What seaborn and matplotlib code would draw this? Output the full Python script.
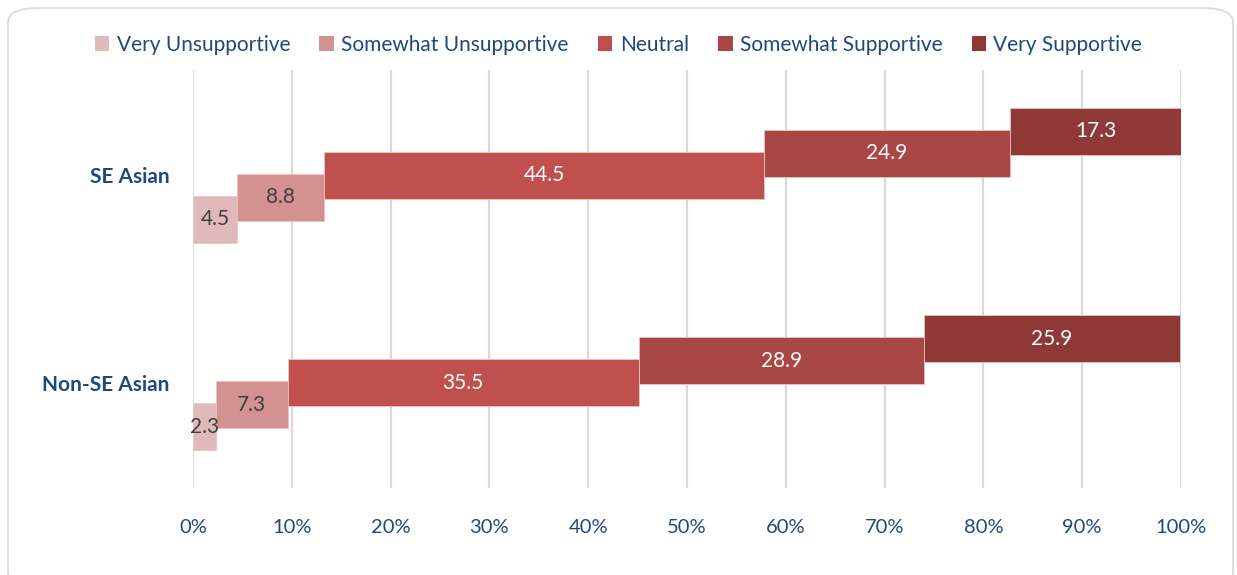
import matplotlib
matplotlib.use("Agg")
import matplotlib.pyplot as plt
import seaborn as sns
from matplotlib.patches import FancyBboxPatch, Patch

groups = ["SE Asian", "Non-SE Asian"]
levels = ["Very Unsupportive", "Somewhat Unsupportive", "Neutral",
          "Somewhat Supportive", "Very Supportive"]
se_asian = [4.5, 8.8, 44.5, 24.9, 17.3]
non_se_asian = [2.3, 7.3, 35.5, 28.9, 25.9]
colors = ["#E0B9BA", "#D39190", "#C0504D", "#A94745", "#8E3936"]
label_colors = ["#404040", "#404040", "white", "white", "white"]
x_ticks = [0, 10, 20, 30, 40, 50, 60, 70, 80, 90, 100]

BLUE = "#1F497D"

sns.set_theme(style="white")
plt.rcParams["font.family"] = ["Lato", "DejaVu Sans"]

fig = plt.figure(figsize=(12.37, 5.75), dpi=100)
W, H = 1237, 575
ax = fig.add_axes([193 / W, 1 - 488 / H, (1181 - 193) / W, (488 - 70) / H])

# each segment sits one "step" above the previous one (staircase look)
step = 22 / 208
height = 47 / 208
for gi, vals in enumerate([se_asian, non_se_asian]):
    left = 0
    for i, v in enumerate(vals):
        y = gi + (2 - i) * step
        ax.barh(y, v, left=left, height=height, color=colors[i],
                edgecolor="#E8C4C4", linewidth=0.6, zorder=3)
        ax.text(left + v / 2, y, f"{v:.1f}", ha="center", va="center",
                fontsize=15, color=label_colors[i], zorder=4)
        left += v

ax.set_xlim(0, 100)
ax.set_ylim(1.505, -0.505)
ax.set_xticks(x_ticks)
ax.set_xticklabels([f"{t}%" for t in x_ticks], color=BLUE, fontsize=14.5)
ax.set_yticks([0, 1])
ax.set_yticklabels(groups, color=BLUE, fontsize=15, fontweight="bold")
ax.tick_params(axis="x", length=0, pad=22)
ax.tick_params(axis="y", length=0, pad=17)
ax.xaxis.grid(True, color="#D9D9D9", linewidth=1.6, zorder=0)
ax.yaxis.grid(False)
for s in ax.spines.values():
    s.set_visible(False)

handles = [Patch(facecolor=c, edgecolor="none", label=l) for c, l in zip(colors, levels)]
fig.legend(handles=handles, loc="center", bbox_to_anchor=(0.5, 1 - 45 / H), ncol=5,
           frameon=False, fontsize=15, labelcolor=BLUE, handlelength=0.7,
           handleheight=0.7, handletextpad=0.35, columnspacing=1.4)

border = FancyBboxPatch((8 / W, -0.02), 1 - 12 / W, 1 - 8 / H + 0.02,
                        boxstyle="round,pad=0,rounding_size=0.025",
                        transform=fig.transFigure, facecolor="none",
                        edgecolor="#D9D9D9", linewidth=1.2)
fig.patches.append(border)

fig.savefig("out.png", dpi=100)
